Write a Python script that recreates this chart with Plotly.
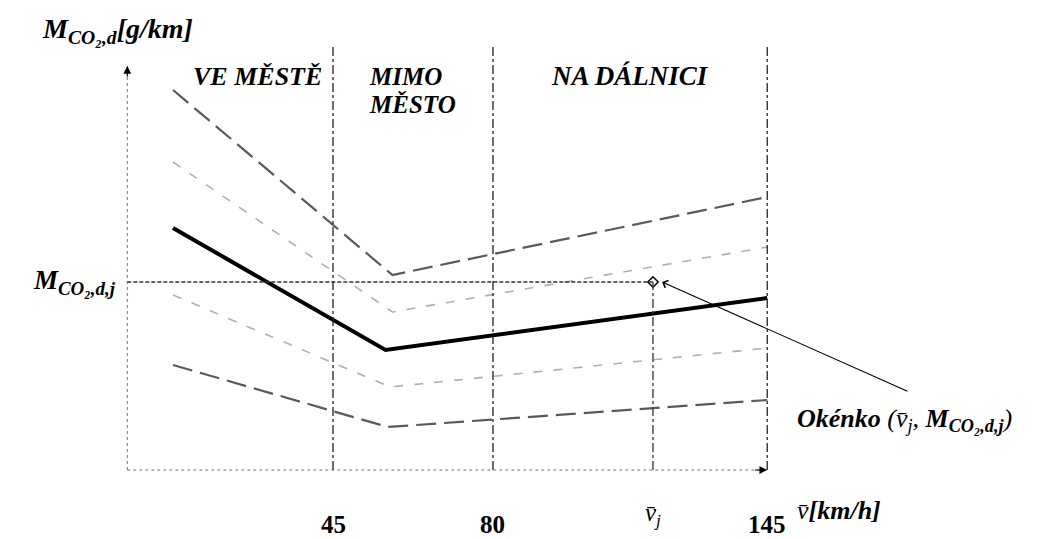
import plotly.graph_objects as go

# ---- schematic data (x: schematic speed position, y: schematic emission) ----
x_pts_top = [10, 58, 140]
y_top = [95, 48.75, 68.25]
x_pts_upper = [10, 58, 140]
y_upper = [77, 39.5, 55.75]
x_pts_main = [10, 56.5, 140]
y_main = [60.5, 30, 43]
x_pts_lower = [10, 57.5, 140]
y_lower = [43.75, 20.75, 30.5]
x_pts_bottom = [10, 57, 140]
y_bottom = [26.25, 10.75, 17.5]

zone_bounds = [45, 80, 140]          # vertical dash-dot boundaries
tick_pos = [45, 80, 115, 140]
tick_labels = ["45", "80", "v̄<sub>j</sub>", "145"]
tick_italic = [False, False, True, False]
vj = 115
m_j = 47
y_axis_top = 101
x_axis_end = 140
zone_top = 106

fig = go.Figure()

SERIF = "Liberation Serif"

fig.add_trace(go.Scatter(x=x_pts_top, y=y_top, mode="lines",
                         line=dict(color="#5a5a5a", width=2.2, dash="20px,8px")))
fig.add_trace(go.Scatter(x=x_pts_upper, y=y_upper, mode="lines",
                         line=dict(color="#b0b0b0", width=1.6, dash="9px,11px")))
fig.add_trace(go.Scatter(x=x_pts_main, y=y_main, mode="lines",
                         line=dict(color="#000000", width=4)))
fig.add_trace(go.Scatter(x=x_pts_lower, y=y_lower, mode="lines",
                         line=dict(color="#b0b0b0", width=1.6, dash="9px,11px")))
fig.add_trace(go.Scatter(x=x_pts_bottom, y=y_bottom, mode="lines",
                         line=dict(color="#5a5a5a", width=2.2, dash="20px,8px")))

# axes (dotted)
fig.add_shape(type="line", x0=0, x1=0, y0=0, y1=y_axis_top,
              line=dict(color="#777777", width=1, dash="dot"))
fig.add_shape(type="line", x0=0, x1=x_axis_end, y0=0, y1=0,
              line=dict(color="#777777", width=1, dash="dot"))

# zone boundaries
for xb in zone_bounds:
    fig.add_shape(type="line", x0=xb, x1=xb, y0=0, y1=zone_top,
                  line=dict(color="#222222", width=1.3, dash="dashdot"))

# v_j vertical & M_j horizontal
fig.add_shape(type="line", x0=vj, x1=vj, y0=0, y1=m_j,
              line=dict(color="#333333", width=1.3, dash="dashdot"))
fig.add_shape(type="line", x0=0, x1=vj, y0=m_j, y1=m_j,
              line=dict(color="#333333", width=1.3, dash="4px,2px"))

fig.add_trace(go.Scatter(x=[vj], y=[m_j], mode="markers",
                         marker=dict(symbol="diamond-open", size=8,
                                     color="#000000", line=dict(width=1.5))))

# axis arrowheads
fig.add_annotation(x=0, y=y_axis_top, ax=0, ay=y_axis_top - 3, axref="x", ayref="y",
                   text="", showarrow=True, arrowhead=2, arrowsize=1.3,
                   arrowwidth=1.2, arrowcolor="#000000")
fig.add_annotation(x=x_axis_end, y=0, ax=x_axis_end - 3, ay=0, axref="x", ayref="y",
                   text="", showarrow=True, arrowhead=2, arrowsize=1.3,
                   arrowwidth=1.2, arrowcolor="#000000")

# pointer arrow from "Okénko" label to the diamond
fig.add_annotation(x=vj + 2, y=m_j, ax=171, ay=19.5, axref="x", ayref="y",
                   text="", showarrow=True, arrowhead=4, arrowsize=1.4,
                   arrowwidth=1.1, arrowcolor="#000000", standoff=0)


def txt(x, y, s, size=24, xanchor="center", yanchor="middle"):
    fig.add_annotation(x=x, y=y, xref="x", yref="y", text=s, showarrow=False,
                       font=dict(family=SERIF, size=size, color="#000000"),
                       xanchor=xanchor, yanchor=yanchor)


txt(-19, 110, "<b><i>M<sub>CO₂,d</sub>[g/km]</i></b>", size=28, xanchor="left")
txt(28.5, 98.5, "<b><i>VE MĚSTĚ</i></b>", size=26)
txt(52.5, 98.5, "<b><i>MIMO</i></b>", size=25, xanchor="left")
txt(52.5, 91.5, "<b><i>MĚSTO</i></b>", size=25, xanchor="left")
txt(110, 98.5, "<b><i>NA DÁLNICI</i></b>", size=27)
txt(-2, m_j, "<b><i>M<sub>CO₂,d,j</sub></i></b>", size=27, xanchor="right")
txt(146, 12.5, "<b><i>Okénko</i></b> <i>(v̄<sub>j</sub>, <b>M<sub>CO₂,d,j</sub></b>)</i>",
    size=26, xanchor="left")
txt(146, -10, "<i>v̄</i><b><i>[km/h]</i></b>", size=26, xanchor="left")

for p, lab, it in zip(tick_pos, tick_labels, tick_italic):
    s = "<i>" + lab + "</i>" if it else "<b>" + lab + "</b>"
    txt(p, -11 if it else -13.5, s, size=25)

# pixel mapping of the schematic (page body has an 8px offset)
PX_X0 = 119.3
PX_SX = 4.571
PX_Y0 = 462
PX_SY = 4

fig.update_layout(
    width=1053, height=539,
    margin=dict(l=0, r=0, t=0, b=0),
    paper_bgcolor="white", plot_bgcolor="white",
    showlegend=False,
    xaxis=dict(range=[-PX_X0 / PX_SX, (1053 - PX_X0) / PX_SX], visible=False,
               fixedrange=True),
    yaxis=dict(range=[(PX_Y0 - 539) / PX_SY, PX_Y0 / PX_SY], visible=False,
               fixedrange=True),
)

fig.write_html("out.html")
